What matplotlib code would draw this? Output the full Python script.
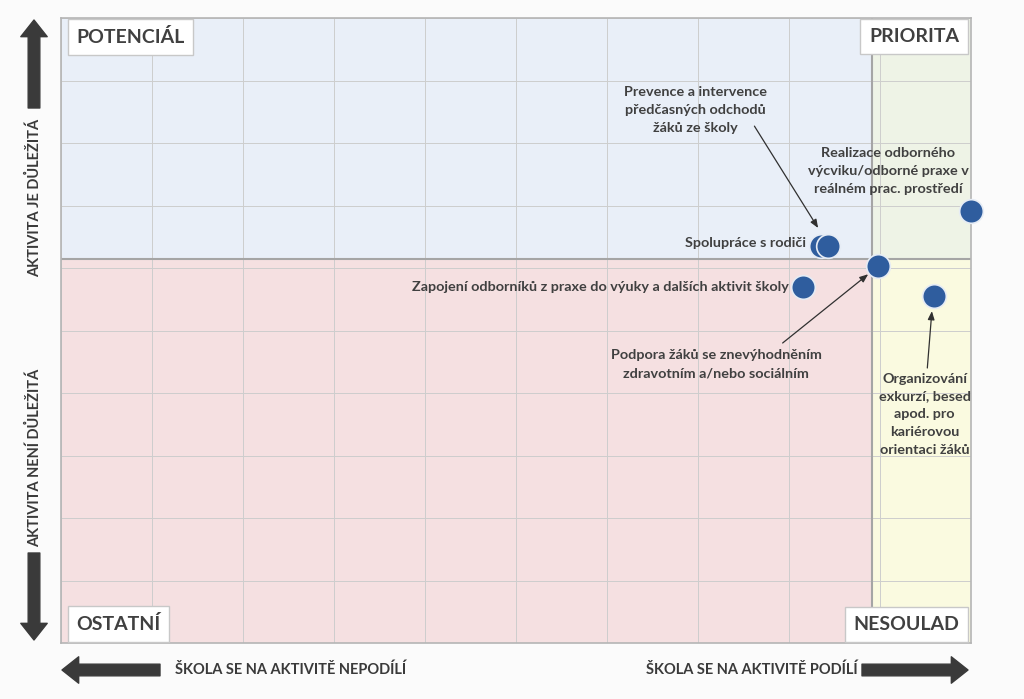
import matplotlib.pyplot as plt

# Aktivity školy: podíl školy (x) vs. důležitost (y), škála 0-10
activities = ["Prevence a intervence\npředčasných odchodů\nžáků ze školy",
              "Spolupráce s rodiči",
              "Realizace odborného\nvýcviku/odborné praxe v\nreálném prac. prostředí",
              "Podpora žáků se znevýhodněním\nzdravotním a/nebo sociálním",
              "Zapojení odborníků z praxe do výuky a dalších aktivit školy",
              "Organizování\nexkurzí, besed\napod. pro\nkariérovou\norientaci žáků"]
x_share = [8.35, 8.43, 10.0, 8.98, 8.15, 9.59]
y_importance = [6.35, 6.35, 6.91, 6.03, 5.70, 5.55]
x_split = 8.91
y_split = 6.14

quadrants = ["POTENCIÁL", "PRIORITA", "OSTATNÍ", "NESOULAD"]

fig = plt.figure(figsize=(10.24, 6.99), dpi=100, facecolor="#fbfbfb")
ax = fig.add_axes([61/1024, 56/699, 910/1024, 625/699])
ax.set_xlim(0, 10)
ax.set_ylim(0, 10)

# pozadí kvadrantů
ax.axvspan(0, x_split, ymin=y_split/10, ymax=1, color="#e9eff8", lw=0, zorder=0)
ax.axvspan(x_split, 10, ymin=y_split/10, ymax=1, color="#eef3e6", lw=0, zorder=0)
ax.axvspan(0, x_split, ymin=0, ymax=y_split/10, color="#f5e0e1", lw=0, zorder=0)
ax.axvspan(x_split, 10, ymin=0, ymax=y_split/10, color="#fafae0", lw=0, zorder=0)

ax.set_xticks(range(11))
ax.set_yticks(range(11))
ax.grid(True, color="#cdcdcd", lw=0.7, zorder=1)
ax.tick_params(length=0, labelbottom=False, labelleft=False)
for s in ax.spines.values():
    s.set_color("#b5b5b5")
    s.set_linewidth(1.2)

ax.axvline(x_split, color="#a5a5a5", lw=1.5, zorder=2)
ax.axhline(y_split, color="#a5a5a5", lw=1.5, zorder=2)

ax.scatter(x_share, y_importance, s=290, color="#2f5d9e",
           edgecolor="#e6ecf5", linewidth=1.2, zorder=5, clip_on=False)

font = "Lato"
txt = dict(fontsize=10.4, fontweight="bold", color="#404040", family=font,
           linespacing=1.58, zorder=6)
ax.text(6.97, 8.53, activities[0], ha="center", va="center", **txt)
ax.text(8.19, 6.40, activities[1], ha="right", va="center", **txt)
ax.text(9.09, 7.55, activities[2], ha="center", va="center", **txt)
ax.text(7.20, 4.46, activities[3], ha="center", va="center", **txt)
ax.text(8.00, 5.70, activities[4], ha="right", va="center", **txt)
ax.text(9.49, 3.66, activities[5], ha="center", va="center", **txt)

arr = dict(arrowstyle="-|>,head_length=0.5,head_width=0.2", color="#303030",
           lw=0.9, shrinkA=0, shrinkB=0)
ax.annotate("", xy=(8.32, 6.64), xytext=(7.62, 8.27), arrowprops=arr, zorder=6)
ax.annotate("", xy=(8.87, 5.90), xytext=(7.93, 4.80), arrowprops=arr, zorder=6)
ax.annotate("", xy=(9.57, 5.31), xytext=(9.52, 4.40), arrowprops=arr, zorder=6)

# štítky kvadrantů
box = dict(boxstyle="square,pad=0.45", fc="white", ec="#c8c8c8", lw=1)
qt = dict(fontsize=14, fontweight="bold", color="#404040", family=font,
          bbox=box, zorder=7)
ax.text(0.17, 9.84, quadrants[0], ha="left", va="top", **qt)
ax.text(9.87, 9.84, quadrants[1], ha="right", va="top", **qt)
ax.text(0.17, 0.16, quadrants[2], ha="left", va="bottom", **qt)
ax.text(9.87, 0.16, quadrants[3], ha="right", va="bottom", **qt)

# směrové šipky a popisky mimo graf
big = dict(arrowstyle="simple,head_length=0.6,head_width=0.95,tail_width=0.42",
           color="#3a3a3a", mutation_scale=20, shrinkA=0, shrinkB=0)
fig_arrows = [((34, 591), (34, 679)), ((34, 146), (34, 59)),
              ((160, 29), (62, 29)), ((862, 29), (968, 29))]
for start, end in fig_arrows:
    ax.annotate("", xy=end, xytext=start, xycoords="figure pixels",
                textcoords="figure pixels", arrowprops=big,
                annotation_clip=False)

side = dict(fontsize=10.5, fontweight="bold", color="#3a3a3a", family=font)
fig.text(35/1024, 1 - 198/699, "AKTIVITA JE DŮLEŽITÁ", rotation=90,
         ha="center", va="center", **side)
fig.text(35/1024, 1 - 458/699, "AKTIVITA NENÍ DŮLEŽITÁ", rotation=90,
         ha="center", va="center", **side)
fig.text(175/1024, 29/699, "ŠKOLA SE NA AKTIVITĚ NEPODÍLÍ",
         ha="left", va="center", **side)
fig.text(858/1024, 29/699, "ŠKOLA SE NA AKTIVITĚ PODÍLÍ",
         ha="right", va="center", **side)

fig.savefig("out.png", dpi=100, facecolor=fig.get_facecolor())
